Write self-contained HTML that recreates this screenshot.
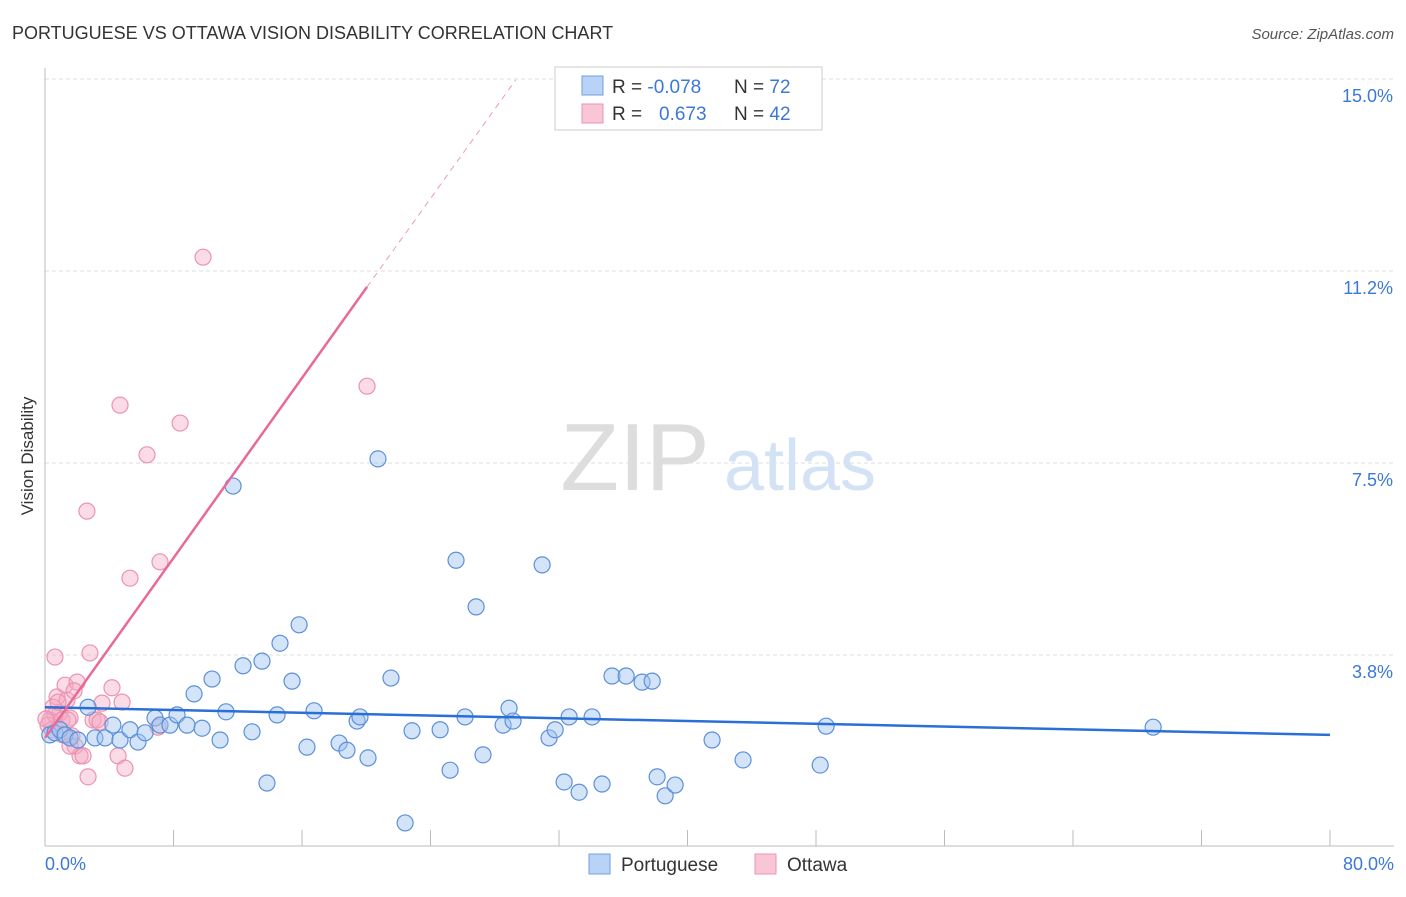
<!DOCTYPE html>
<html><head><meta charset="utf-8"><style>
body{margin:0;background:#fff;font-family:"Liberation Sans",sans-serif;}
svg text{font-family:"Liberation Sans",sans-serif;}
</style></head><body>
<svg id="chart" width="1406" height="892">
<text x="12" y="39" font-size="18" fill="#333">PORTUGUESE VS OTTAWA VISION DISABILITY CORRELATION CHART</text>
<text x="1394" y="39" font-size="15" fill="#555" font-style="italic" text-anchor="end">Source: ZipAtlas.com</text>
<g id="grid"></g>
<text x="635" y="490" font-size="96" fill="#ddd" font-family="Liberation Serif" text-anchor="middle">ZIP</text>
<text x="800" y="490" font-size="72" fill="#d3e2f5" text-anchor="middle">atlas</text>
<line x1="45" y1="68" x2="45" y2="846" stroke="#bbb"/>
<line x1="45" y1="846" x2="1394" y2="846" stroke="#bbb"/>
<g id="xticks"></g>
<g id="ylabels"></g>
<text x="45" y="870" font-size="18" fill="#3b78d8">0.0%</text>
<text x="1394" y="870" font-size="18" fill="#3b78d8" text-anchor="end">80.0%</text>
<text transform="translate(33,456) rotate(-90)" font-size="17" fill="#333" text-anchor="middle">Vision Disability</text>
<g id="marks"></g>
<g>
<rect x="555" y="67" width="267" height="63" fill="#fff" stroke="#ccc"/>
<rect x="582" y="76" width="21" height="19" fill="#b8d3f5" stroke="#6f9fe0"/>
<rect x="582" y="104" width="21" height="19" fill="#f9c6d6" stroke="#eb93b0"/>
<text x="612" y="93" font-size="19" fill="#333">R = <tspan fill="#3b78d8">-0.078</tspan></text>
<text x="734" y="93" font-size="19" fill="#333">N = <tspan fill="#3b78d8">72</tspan></text>
<text x="612" y="120" font-size="19" fill="#333">R = <tspan fill="#3b78d8" x="659">0.673</tspan></text>
<text x="734" y="120" font-size="19" fill="#333">N = <tspan fill="#3b78d8">42</tspan></text>
</g>
<g>
<rect x="589" y="854" width="21" height="20" fill="#b8d3f5" stroke="#6f9fe0"/>
<text x="621" y="871" font-size="19" fill="#333">Portuguese</text>
<rect x="755" y="854" width="21" height="20" fill="#f9c6d6" stroke="#eb93b0"/>
<text x="787" y="871" font-size="19" fill="#333">Ottawa</text>
</g>
</svg>
<script>
const yTicks=[3.75,7.5,11.25,15];
const yTickLabels=["3.8%","7.5%","11.2%","15.0%"];
const xTicks=[0,8,16,24,32,40,48,56,64,72,80];
const bluePts=[[0.3,2.19],[0.62,2.23],[0.93,2.29],[1.25,2.19],[1.56,2.13],[2.05,2.09],[2.68,2.73],[3.11,2.13],[3.74,2.13],[4.23,2.38],[4.67,2.09],[5.29,2.29],[5.79,2.05],[6.23,2.23],[6.85,2.52],[7.16,2.38],[7.78,2.38],[8.22,2.58],[8.84,2.38],[9.28,2.99],[9.78,2.32],[10.4,3.28],[10.9,2.09],[11.27,2.64],[11.71,7.05],[12.33,3.54],[12.89,2.25],[13.51,3.63],[13.82,1.25],[14.45,2.58],[14.63,3.98],[15.38,3.24],[15.82,4.34],[16.31,1.95],[16.75,2.66],[18.31,2.03],[18.8,1.89],[19.43,2.46],[19.61,2.54],[20.11,1.74],[20.73,7.58],[21.54,3.30],[22.42,0.47],[22.85,2.27],[24.6,2.29],[25.22,1.5],[25.59,5.6],[26.15,2.54],[26.84,4.69],[27.27,1.8],[28.52,2.38],[28.89,2.71],[29.14,2.46],[30.95,5.51],[31.38,2.13],[31.76,2.29],[32.32,1.27],[32.63,2.54],[33.25,1.07],[34.06,2.54],[34.68,1.23],[35.3,3.34],[36.18,3.34],[37.17,3.22],[37.8,3.24],[38.11,1.37],[38.61,1.0],[39.23,1.21],[41.53,2.09],[43.46,1.7],[48.26,1.6],[48.63,2.36],[68.99,2.34]];
const pinkPts=[[0.31,2.48],[0.44,2.29],[0.62,3.71],[0.75,2.93],[0.93,2.62],[1.06,2.48],[1.25,3.16],[1.37,2.87],[1.56,2.52],[1.68,2.17],[1.87,1.97],[2.0,3.22],[2.18,1.78],[2.37,1.78],[2.68,1.37],[2.61,6.56],[2.8,3.79],[2.99,2.48],[3.24,2.48],[3.55,2.81],[4.17,3.11],[4.55,1.78],[4.67,8.63],[4.8,2.83],[4.98,1.54],[5.29,5.25],[6.35,7.66],[7.04,2.34],[7.16,5.57],[8.41,8.28],[9.84,11.52],[20.05,9.0],[0.62,2.58],[0.19,2.38],[3.42,2.44],[1.43,2.48],[1.12,2.19],[1.81,3.05],[0.5,2.73],[0.81,2.83],[0.06,2.5],[1.56,1.97]];
const blueTrend=[[0,2.73],[80,2.19]];
const pinkTrend=[[0,2.13],[20.05,10.94]];
const pinkTrendExt=[[20.05,10.94],[29.3,14.98]];
const X=v=>45+v*(1285/80), Y=v=>847-v*51.2;
const NS="http://www.w3.org/2000/svg";
function mk(tag,attrs,parent){const e=document.createElementNS(NS,tag);for(const k in attrs)e.setAttribute(k,attrs[k]);parent.appendChild(e);return e;}
const grid=document.getElementById('grid'),yl=document.getElementById('ylabels'),xt=document.getElementById('xticks'),marks=document.getElementById('marks');
yTicks.forEach((t,i)=>{
 const l=mk('line',{x1:45,x2:1394,y1:Y(t),y2:Y(t),stroke:'#ddd','stroke-dasharray':'4,3'},grid);
 
 
 const tx=mk('text',{x:1393,y:Y(t)+23,'font-size':18,fill:'#3b78d8','text-anchor':'end'},yl);
 tx.textContent=yTickLabels[i];
 
 
});
xTicks.forEach(t=>{
 const l=mk('line',{x1:X(t),x2:X(t),y1:830,y2:846,stroke:'#bbb'},xt);
 
 
});
pinkPts.forEach(p=>{
 const c=mk('circle',{cx:X(p[0]),cy:Y(p[1]),r:8,fill:'rgba(244,167,192,0.4)',stroke:'#eb93b0','stroke-width':1.2},marks);
 
 
});
bluePts.forEach(p=>{
 const c=mk('circle',{cx:X(p[0]),cy:Y(p[1]),r:8,fill:'rgba(160,196,240,0.45)',stroke:'#5b8fdc','stroke-width':1.2},marks);
 
 
});
let ln=mk('line',{x1:X(blueTrend[0][0]),y1:Y(blueTrend[0][1]),x2:X(blueTrend[1][0]),y2:Y(blueTrend[1][1]),stroke:'#2a6fd6','stroke-width':2.5},marks);


ln=mk('line',{x1:X(pinkTrend[0][0]),y1:Y(pinkTrend[0][1]),x2:X(pinkTrend[1][0]),y2:Y(pinkTrend[1][1]),stroke:'#e8699a','stroke-width':2.5},marks);


ln=mk('line',{x1:X(pinkTrendExt[0][0]),y1:Y(pinkTrendExt[0][1]),x2:X(pinkTrendExt[1][0]),y2:Y(pinkTrendExt[1][1]),stroke:'#eb9bb8','stroke-width':1,'stroke-dasharray':'6,5'},marks);


</script>
</body></html>
